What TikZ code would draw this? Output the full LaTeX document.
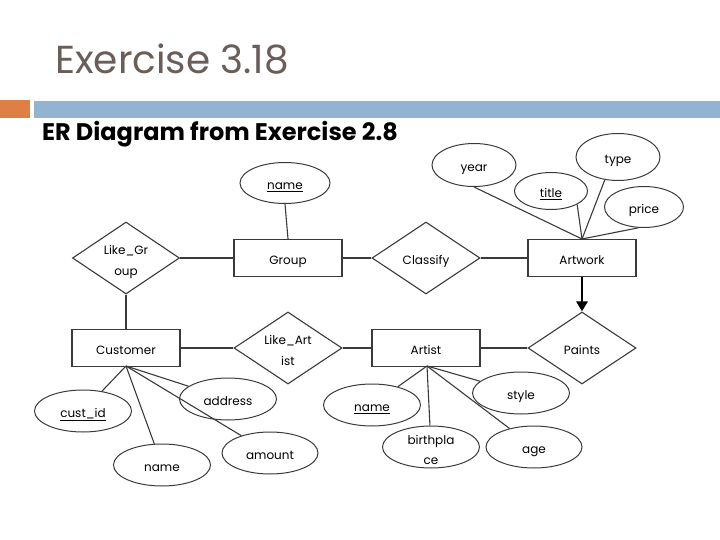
\documentclass[tikz,border=0pt]{standalone}
\usepackage{fontspec}
\setmainfont{Poppins}
\usetikzlibrary{shapes.geometric,arrows.meta}
\definecolor{titlegray}{HTML}{6B5E59}
\definecolor{barblue}{HTML}{92B4D1}
\definecolor{barorange}{HTML}{E07F45}
\definecolor{edge}{HTML}{3A3A3A}
\newcommand\twolines[2]{\raisebox{-3pt}[8pt][2pt]{\begin{tabular}{@{}c@{}}#1\\#2\end{tabular}}}
\tikzset{
  one/.style={text height=13pt,text depth=0pt},
  ent/.style={draw=edge,line width=1.3pt,minimum width=108pt,minimum height=37pt,inner sep=0pt,font=\fontsize{12}{14}\selectfont,text height=12pt,text depth=0pt},
  rel/.style={draw=edge,diamond,line width=1.1pt,minimum width=108pt,minimum height=72pt,inner sep=0pt,aspect=1.5,font=\fontsize{12}{21}\selectfont},
  att/.style={draw=edge,ellipse,line width=1pt,inner sep=0pt,minimum width=97pt,minimum height=42pt,font=\fontsize{12}{20}\selectfont},
  conn/.style={draw=edge,line width=1.1pt},
}
\begin{document}
\begin{tikzpicture}[x=1pt,y=-1pt]
\useasboundingbox (0,0) rectangle (720,540);
% header
\node[anchor=base west,inner sep=0pt,text=titlegray,font=\fontsize{39}{42}\selectfont] (title) at (55,74) {Exercise 3.18};
\fill[barorange] (0,100) rectangle (30,118);
\fill[barblue] (34,101) rectangle (720,118);
\node[anchor=base west,inner sep=0pt,font=\fontsize{24}{28}\selectfont\bfseries] (sub) at (42,141) {ER Diagram from Exercise 2.8};
% entities
\node[ent] (group) at (288,258) {Group};
\node[ent] (artwork) at (582,258) {Artwork};
\node[ent] (customer) at (126,348) {Customer};
\node[ent] (artist) at (426,348) {Artist};
% relationships
\node[rel,minimum width=107pt] (likegroup) at (126,258) {\twolines{Like\_Gr}{oup}};
\node[rel,one] (classify) at (426,258) {Classify};
\node[rel] (likeartist) at (288,348) {\twolines{Like\_Art}{ist}};
\node[rel,one] (paints) at (582,348) {Paints};
% attributes
\node[att,one,minimum width=90pt,minimum height=41pt] (gname) at (285,183) {\underline{name}};
\node[att,one,minimum width=84pt,minimum height=43pt] (year) at (474,165) {year};
\node[att,one,minimum width=73pt,minimum height=37pt] (title2) at (551,191) {\underline{title}};
\node[att,one,minimum width=84pt,minimum height=47pt] (type) at (618,157) {type};
\node[att,one,minimum width=79pt,minimum height=41pt] (price) at (644,207) {price};
\node[att,one] (custid) at (83,411) {\underline{cust\_id}};
\node[att,one] (cname) at (162,465) {name};
\node[att,one] (address) at (228,399) {address};
\node[att,one,minimum width=96pt] (amount) at (270,453) {amount};
\node[att,one] (aname) at (372,405) {\underline{name}};
\node[att] (birth) at (431,447) {\twolines{birthpla}{ce}};
\node[att,one] (style) at (521,393) {style};
\node[att,one,minimum width=96pt] (age) at (534,447) {age};
% anchor points
\coordinate (awtop) at (582,239);
\coordinate (cubot) at (126,366);
\coordinate (arbot) at (427,366);
% connectors
\draw[conn] (likegroup) -- (group);
\draw[conn] (group) -- (classify);
\draw[conn] (classify) -- (artwork);
\draw[conn] (customer) -- (likeartist);
\draw[conn] (likeartist) -- (artist);
\draw[conn] (artist) -- (paints);
\draw[conn] (likegroup) -- (customer);
\draw[conn] (gname.south) -- (group.north);
\draw[conn] (year.south) -- (awtop);
\draw[conn] (title2.south east) -- (awtop);
\draw[conn] (type.240) -- (awtop);
\draw[conn] (price.255) -- (awtop);
\draw[draw=black,line width=2.6pt,-{Triangle[length=10pt,width=11pt]}] (artwork) -- (paints);
\draw[conn] (cubot) -- (custid);
\draw[conn] (cubot) -- (cname);
\draw[conn] (cubot) -- (address);
\draw[conn] (cubot) -- (amount);
\draw[conn] (arbot) -- (aname);
\draw[conn] (arbot) -- (birth);
\draw[conn] (arbot) -- (style);
\draw[conn] (arbot) -- (age);
\end{tikzpicture}
\end{document}
